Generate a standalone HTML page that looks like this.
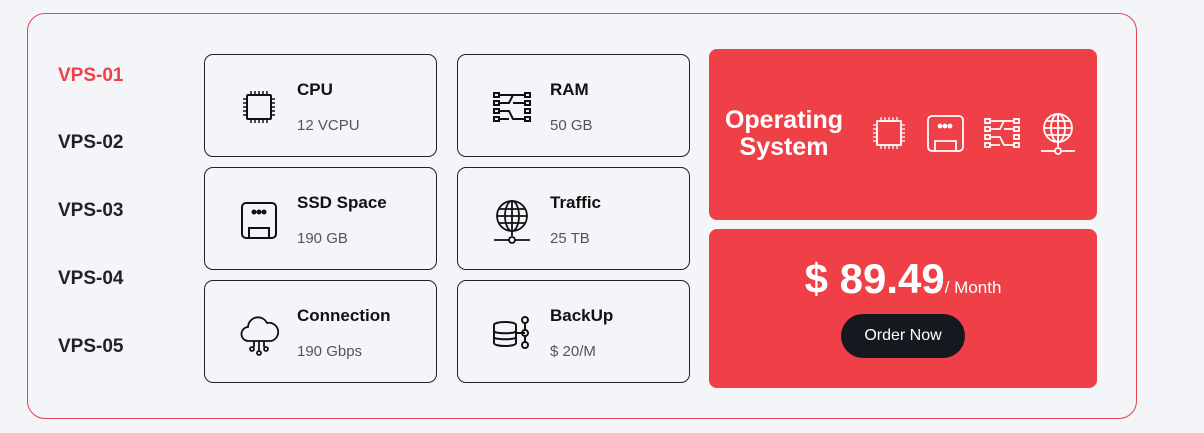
<!DOCTYPE html>
<html><head><style>
*{margin:0;padding:0;box-sizing:border-box}
body{width:1204px;height:433px;background:#f3f5f9;font-family:"Liberation Sans",sans-serif;position:relative;overflow:hidden}
.wrap{position:absolute;left:27px;top:13px;width:1110px;height:406px;border:1px solid #e2454c;border-radius:18px}
.vps{position:absolute;left:58px;font-weight:bold;font-size:19px;color:#222}
.card{position:absolute;width:233px;height:103px;border:1px solid #222;border-radius:9px}
.card svg{position:absolute;left:34px;top:32px}
.card .t{position:absolute;left:92px;top:25px;font-weight:bold;font-size:17px;color:#111}
.card .s{position:absolute;left:92px;top:62px;font-size:15px;color:#555}
.red{position:absolute;left:709px;width:388px;background:#ef4048;border-radius:8px}
</style></head><body>
<div class="wrap"></div>
<div class="vps" style="top:65px;color:#ef4048">VPS-01</div>
<div class="vps" style="top:132px">VPS-02</div>
<div class="vps" style="top:200px">VPS-03</div>
<div class="vps" style="top:268px">VPS-04</div>
<div class="vps" style="top:336px">VPS-05</div>

<div class="card" style="left:204px;top:54px">
<svg width="40" height="40" viewBox="0 0 40 40" fill="none" stroke="#111" stroke-width="2"><rect x="8" y="8" width="24" height="24" rx="1"/><path d="M12 4v4M16 4v4M20 4v4M24 4v4M28 4v4M12 32v4M16 32v4M20 32v4M24 32v4M28 32v4M4 12h4M4 16h4M4 20h4M4 24h4M4 28h4M32 12h4M32 16h4M32 20h4M32 24h4M32 28h4" stroke-width="1.5"/></svg>
<div class="t">CPU</div><div class="s">12 VCPU</div></div>
<div class="card" style="left:457px;top:54px">
<svg width="40" height="40" viewBox="0 0 40 40" fill="none" stroke="#111" stroke-width="2"><rect x="2" y="6" width="5" height="4"/><rect x="2" y="14" width="5" height="4"/><rect x="2" y="22" width="5" height="4"/><rect x="2" y="30" width="5" height="4"/><rect x="33" y="6" width="5" height="4"/><rect x="33" y="14" width="5" height="4"/><rect x="33" y="22" width="5" height="4"/><rect x="33" y="30" width="5" height="4"/><path d="M7 8h26M7 16h10l4-8M7 24h10l4 8h12M21 16h12M7 32h10"/></svg>
<div class="t">RAM</div><div class="s">50 GB</div></div>
<div class="card" style="left:204px;top:167px">
<svg width="40" height="40" viewBox="0 0 40 40" fill="none" stroke="#111" stroke-width="2"><rect x="3" y="3" width="34" height="35" rx="4"/><path d="M10 38V28h20v10"/><circle cx="15" cy="12" r="1.5" fill="#111"/><circle cx="20" cy="12" r="1.5" fill="#111"/><circle cx="25" cy="12" r="1.5" fill="#111"/></svg>
<div class="t">SSD Space</div><div class="s">190 GB</div></div>
<div class="card" style="left:457px;top:167px">
<svg width="40" height="44" viewBox="0 0 40 44" fill="none" stroke="#111" stroke-width="1.8"><circle cx="20" cy="16" r="15"/><ellipse cx="20" cy="16" rx="7" ry="15"/><path d="M20 1v29M5 16h30M7 9h26M7 23h26M20 31v5M2 40h15M23 40h15"/><circle cx="20" cy="40" r="3"/></svg>
<div class="t">Traffic</div><div class="s">25 TB</div></div>
<div class="card" style="left:204px;top:280px">
<svg width="40" height="44" viewBox="0 0 40 44" fill="none" stroke="#111" stroke-width="1.8"><path d="M10 28a7 7 0 0 1-1-14 10 10 0 0 1 19-4 8 8 0 0 1 4 18z"/><path d="M15 28v6M20 28v10M25 28v6"/><circle cx="13" cy="36" r="2"/><circle cx="20" cy="40" r="2"/><circle cx="27" cy="36" r="2"/></svg>
<div class="t">Connection</div><div class="s">190 Gbps</div></div>
<div class="card" style="left:457px;top:280px">
<svg width="40" height="40" viewBox="0 0 40 40" fill="none" stroke="#111" stroke-width="2"><path d="M2 12c0-4 22-4 22 0v18c0 4-22 4-22 0z"/><path d="M2 18c0 3 22 3 22 0M2 24c0 3 22 3 22 0M24 20h9"/><circle cx="33" cy="7" r="3"/><circle cx="33" cy="20" r="3"/><circle cx="33" cy="32" r="3"/><path d="M33 10v7M33 23v6"/></svg>
<div class="t">BackUp</div><div class="s">$ 20/M</div></div>

<div class="red" style="top:49px;height:171px">
<div style="position:absolute;left:0;width:150px;top:58px;text-align:center;color:#fff;font-weight:bold;font-size:25px;line-height:27px">Operating<br>System</div>
<svg style="position:absolute;left:162px;top:64px" width="210" height="42" viewBox="0 0 210 42" fill="none" stroke="#fff" stroke-width="1.8">
<rect x="6" y="8" width="24" height="24"/><path d="M10 4v4M14 4v4M18 4v4M22 4v4M26 4v4M10 32v4M14 32v4M18 32v4M22 32v4M26 32v4M2 12h4M2 16h4M2 20h4M2 24h4M2 28h4M30 12h4M30 16h4M30 20h4M30 24h4M30 28h4" stroke-width="1.3"/>
<rect x="57" y="3" width="35" height="35" rx="4"/><path d="M64 38V28h21v10"/><circle cx="69" cy="13" r="1.5" fill="#fff"/><circle cx="74" cy="13" r="1.5" fill="#fff"/><circle cx="79" cy="13" r="1.5" fill="#fff"/>
<g transform="translate(112,0)"><rect x="2" y="6" width="5" height="4"/><rect x="2" y="14" width="5" height="4"/><rect x="2" y="22" width="5" height="4"/><rect x="2" y="30" width="5" height="4"/><rect x="31" y="6" width="5" height="4"/><rect x="31" y="14" width="5" height="4"/><rect x="31" y="22" width="5" height="4"/><rect x="31" y="30" width="5" height="4"/><path d="M7 8h24M7 16h10l4-8M7 24h10l4 8h10M21 16h10M7 32h10"/></g>
<g transform="translate(167,0)"><circle cx="20" cy="15" r="14"/><ellipse cx="20" cy="15" rx="7" ry="14"/><path d="M20 1v27M6 15h28M8 8h24M8 22h24M20 29v5M3 38h14M23 38h14"/><circle cx="20" cy="38" r="3"/></g>
</svg></div>

<div class="red" style="top:229px;height:159px">
<div style="position:absolute;left:0;width:388px;top:26px;text-align:center;color:#fff"><span style="font-weight:bold;font-size:42px">$ 89.49</span><span style="font-size:17px">/ Month</span></div>
<div style="position:absolute;left:132px;top:85px;width:124px;height:44px;background:#16181f;border-radius:22px;color:#fff;font-size:16px;text-align:center;line-height:44px">Order Now</div>
</div>
</body></html>
